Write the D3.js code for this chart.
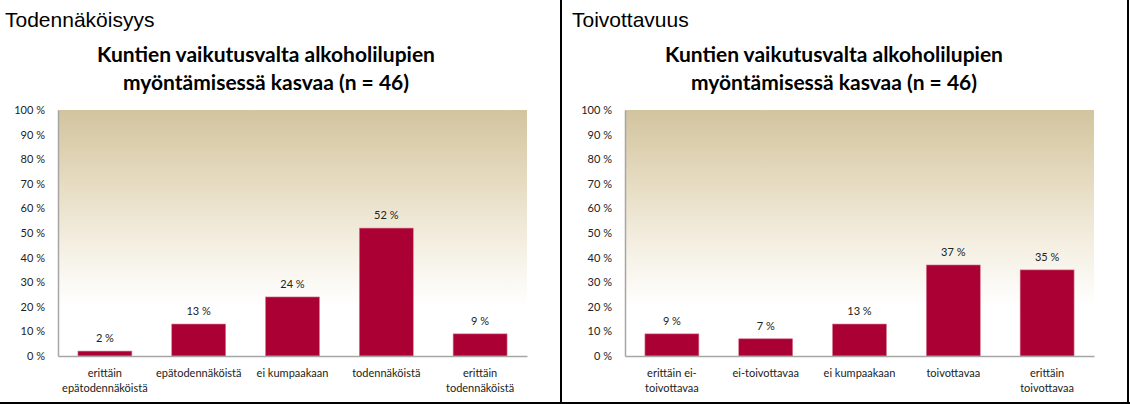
<!DOCTYPE html>
<html><head><meta charset="utf-8">
<script src="https://cdn.jsdelivr.net/npm/d3@7"></script>
<style>body{margin:0;background:#fff}svg{display:block}</style>
</head><body>
<svg id="c" width="1130" height="404"></svg>
<script>
const panelTitles = ["Todennäköisyys", "Toivottavuus"];
const chartTitleLines = ["Kuntien vaikutusvalta alkoholilupien", "myöntämisessä kasvaa (n = 46)"];
const categoriesA = [["erittäin","epätodennäköistä"],["epätodennäköistä"],["ei kumpaakaan"],["todennäköistä"],["erittäin","todennäköistä"]];
const valuesA = [2, 13, 24, 52, 9];
const categoriesB = [["erittäin ei-","toivottavaa"],["ei-toivottavaa"],["ei kumpaakaan"],["toivottavaa"],["erittäin","toivottavaa"]];
const valuesB = [9, 7, 13, 37, 35];
const yTicks = [0,10,20,30,40,50,60,70,80,90,100];

const svg = d3.select("#c");
const defs = svg.append("defs");
const grad = defs.append("linearGradient").attr("id","bg").attr("x1",0).attr("y1",0).attr("x2",0).attr("y2",1);
grad.append("stop").attr("offset","0").attr("stop-color","#d2c49e");
grad.append("stop").attr("offset","0.3").attr("stop-color","#e6dcc2");
grad.append("stop").attr("offset","0.55").attr("stop-color","#f4efe2");
grad.append("stop").attr("offset","0.8").attr("stop-color","#ffffff");
grad.append("stop").attr("offset","1").attr("stop-color","#ffffff");

const font = "Lato, 'Open Sans', sans-serif";

function panel(ox, title, titleCx, cats, vals) {
  const g = svg.append("g").attr("transform", `translate(${ox},0)`);
  g.append("text").attr("x",5).attr("y",27).attr("font-family","'Liberation Sans', Arial, sans-serif")
    .attr("font-size",21).attr("fill","#000").text(title);
  chartTitleLines.forEach((t,i)=>{
    g.append("text").attr("x",titleCx).attr("y",62+i*28).attr("text-anchor","middle")
      .attr("font-family",font).attr("font-weight","bold").attr("font-size",21).attr("fill","#000").text(t);
  });
  const x0 = 58, x1 = 527, yTop = 110, yBot = 356;
  const x = d3.scaleBand().domain(d3.range(cats.length)).range([x0,x1]).paddingInner(0.425).paddingOuter(0.2125);
  const y = d3.scaleLinear().domain([0,100]).range([yBot,yTop]);
  g.append("rect").attr("x",x0).attr("y",yTop).attr("width",x1-x0).attr("height",yBot-yTop).attr("fill","url(#bg)");
  const ya = g.append("g").attr("transform",`translate(${x0},0)`)
    .call(d3.axisLeft(y).tickValues(yTicks).tickSize(0).tickPadding(13).tickFormat(d=>d+" %"));
  ya.select(".domain").attr("stroke","#a6a6a6").attr("stroke-width",1.5);
  ya.selectAll("text").attr("font-family",font).attr("font-size",11).attr("fill","#222");
  g.selectAll("rect.bar").data(vals).join("rect").attr("class","bar")
    .attr("x",(d,i)=>x(i)).attr("width",x.bandwidth())
    .attr("y",d=>y(d)).attr("height",d=>yBot-y(d))
    .attr("fill","#ab0033").attr("stroke","#d77a92").attr("stroke-width",0.6);
  g.selectAll("text.val").data(vals).join("text").attr("class","val")
    .attr("x",(d,i)=>x(i)+x.bandwidth()/2).attr("y",d=>y(d)-9)
    .attr("text-anchor","middle").attr("font-family",font).attr("font-size",11).attr("fill","#222")
    .text(d=>d+" %");
  const xa = g.append("g").attr("transform",`translate(0,${yBot})`)
    .call(d3.axisBottom(x).tickSize(0).tickFormat(""));
  xa.select(".domain").attr("stroke","#a6a6a6").attr("stroke-width",1.5);
  cats.forEach((lines,i)=>{
    const t = g.append("text").attr("x",x(i)+x.bandwidth()/2).attr("y",377).attr("text-anchor","middle")
      .attr("font-family",font).attr("font-size",11).attr("fill","#222");
    lines.forEach((l,j)=>t.append("tspan").attr("x",x(i)+x.bandwidth()/2).attr("dy",j?15:0).text(l));
  });
}
panel(0, panelTitles[0], 266, categoriesA, valuesA);
panel(567, panelTitles[1], 267, categoriesB, valuesB);

svg.append("line").attr("x1",561).attr("x2",561).attr("y1",0).attr("y2",404).attr("stroke","#000").attr("stroke-width",2);
svg.append("line").attr("x1",0).attr("x2",1130).attr("y1",403).attr("y2",403).attr("stroke","#000").attr("stroke-width",2);
svg.append("line").attr("x1",1128).attr("x2",1128).attr("y1",0).attr("y2",404).attr("stroke","#000").attr("stroke-width",2);
</script>
</body></html>
